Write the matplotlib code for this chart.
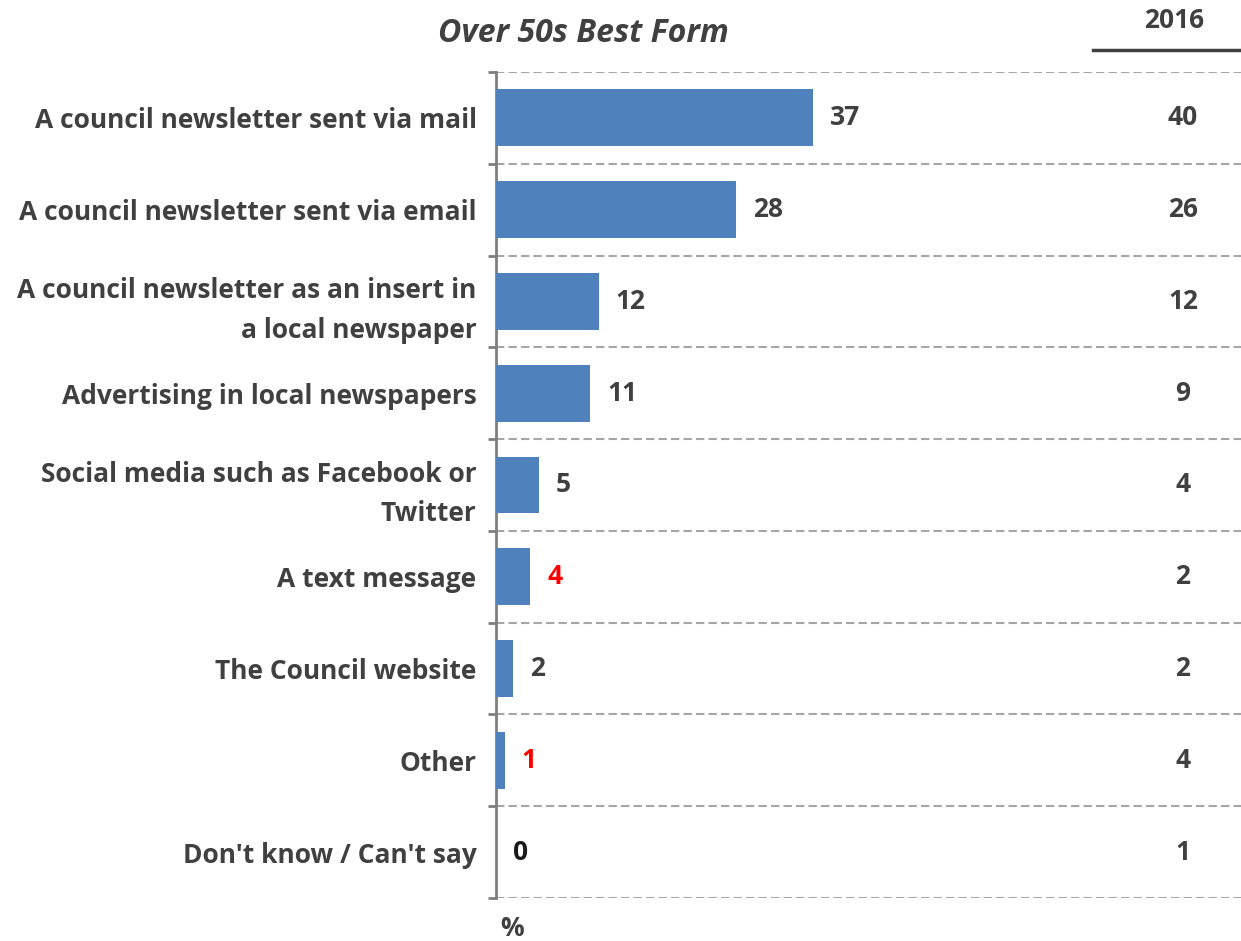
import numpy as np
import matplotlib
matplotlib.use("Agg")
import matplotlib.pyplot as plt
from matplotlib.transforms import blended_transform_factory

plt.rcParams['font.family'] = ['Open Sans', 'DejaVu Sans']

categories = [
    "A council newsletter sent via mail",
    "A council newsletter sent via email",
    "A council newsletter as an insert in\na local newspaper",
    "Advertising in local newspapers",
    "Social media such as Facebook or\nTwitter",
    "A text message",
    "The Council website",
    "Other",
    "Don't know / Can't say",
]
values_over50 = [37, 28, 12, 11, 5, 4, 2, 1, 0]
values_2016 = [40, 26, 12, 9, 4, 2, 2, 4, 1]
label_colors = ['#404040', '#404040', '#404040', '#404040', '#404040',
                '#ff0000', '#404040', '#ff0000', '#1a1a1a']

text_color = '#404040'
bar_color = '#4f81bd'
fs = 19

fig = plt.figure(figsize=(12.41, 9.41), dpi=100)
ax = fig.add_axes([496 / 1241, 1 - 898 / 941, 1 - 496 / 1241, (898 - 72) / 941])

y = np.arange(len(categories))
ax.barh(y, values_over50, height=0.62, color=bar_color, zorder=3)
ax.set_xlim(0, 745 / 8.57)
ax.set_ylim(len(categories) - 0.5, -0.5)

# value labels next to each bar
for yi, v, c in zip(y, values_over50, label_colors):
    ax.annotate(str(v), (v, yi), xytext=(17, 0), textcoords='offset pixels',
                ha='left', va='center', fontsize=fs, fontweight='bold', color=c)

# category labels
ax.set_yticks(y)
ax.set_yticklabels(categories, fontsize=fs, fontweight='bold', color=text_color,
                   linespacing=1.58)
ax.tick_params(axis='y', which='major', length=0, pad=14)
ax.set_xticks([])

# boundaries between rows: dashed grid + small outward ticks
bounds = np.arange(len(categories) + 1) - 0.5
ax.set_yticks(bounds, minor=True)
ax.tick_params(axis='y', which='minor', length=6, width=2, color='#7f7f7f', direction='out')
ax.grid(axis='y', which='minor', linestyle=(0, (4, 2)), color='#a6a6a6', linewidth=1.5)

for side in ['top', 'right', 'bottom']:
    ax.spines[side].set_visible(False)
ax.spines['left'].set_color('#7f7f7f')
ax.spines['left'].set_linewidth(2)

# 2016 comparison column
tr = blended_transform_factory(fig.transFigure, ax.transData)
for yi, v in zip(y, values_2016):
    ax.text(1183 / 1241, yi, str(v), transform=tr, ha='center', va='center',
            fontsize=fs, fontweight='bold', color=text_color)

fig.text(1174 / 1241, 1 - 21 / 941, "2016", ha='center', va='center',
         fontsize=fs, fontweight='bold', color=text_color)
fig.add_artist(plt.Line2D([1093 / 1241, 1.0], [1 - 50 / 941, 1 - 50 / 941],
                          color=text_color, linewidth=2.5))

fig.text(583 / 1241, 1 - 33 / 941, "Over 50s Best Form", ha='center', va='center',
         fontsize=23, fontweight='bold', fontstyle='italic', color=text_color)
fig.text(512 / 1241, 1 - 928 / 941, "%", ha='center', va='center',
         fontsize=fs, fontweight='bold', color=text_color)

fig.savefig("out.png", dpi=100, facecolor='white')
